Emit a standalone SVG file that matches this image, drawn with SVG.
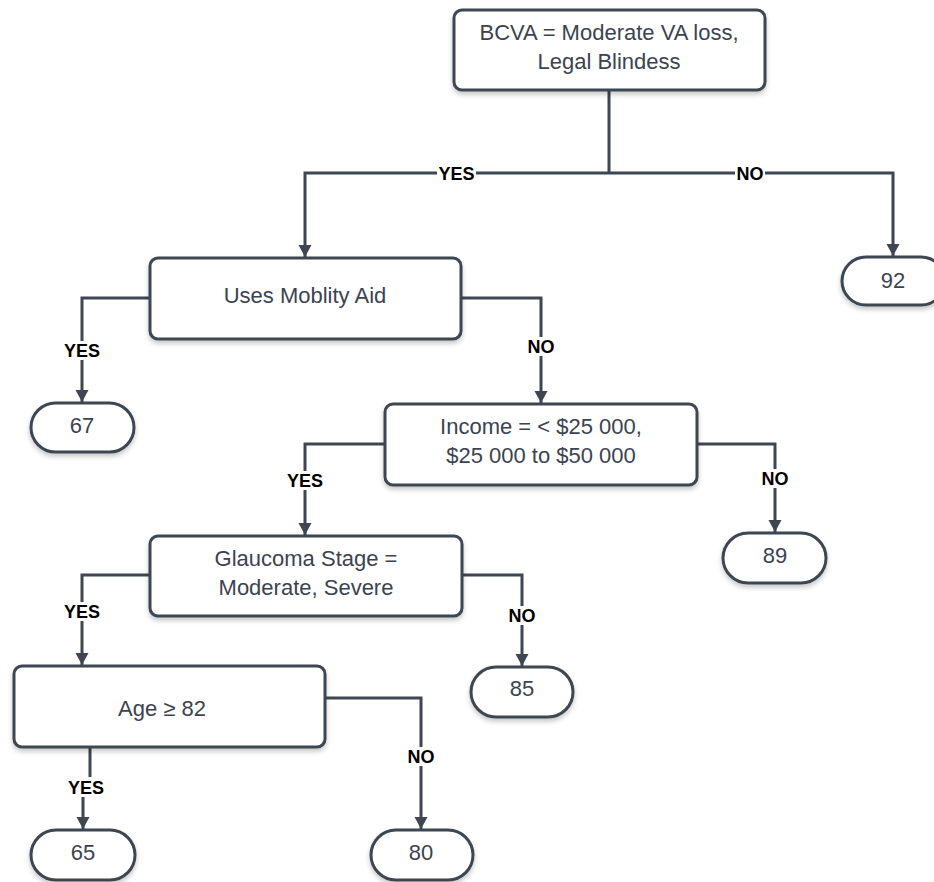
<svg xmlns="http://www.w3.org/2000/svg" width="934" height="882" viewBox="0 0 934 882">
  <defs>
    <filter id="shadow" x="-10%" y="-10%" width="120%" height="140%">
      <feDropShadow dx="0" dy="3" stdDeviation="2.5" flood-color="#000" flood-opacity="0.22"/>
    </filter>
    <marker id="arrow" markerUnits="userSpaceOnUse" markerWidth="14" markerHeight="14" refX="12" refY="6.5" orient="auto">
      <path d="M0,0 L12,6.5 L0,13 Z" fill="#3d4651"/>
    </marker>
    <style>
      .box { fill: #ffffff; stroke: #3d4651; stroke-width: 3; filter: url(#shadow); }
      .txt { font-family: "Liberation Sans", Arial, sans-serif; font-size: 22px; fill: #3b4350; text-anchor: middle; }
      .edge { fill: none; stroke: #3d4651; stroke-width: 3; }
      .lbl { font-family: "Liberation Sans", Arial, sans-serif; font-size: 18px; font-weight: bold; fill: #000000; text-anchor: middle; }
      .lblbg { fill: #ffffff; }
    </style>
  </defs>
  <rect width="934" height="882" fill="#ffffff"/>

  <!-- connectors -->
  <g id="connectors">
    <path class="edge" d="M609 90 V173"/>
    <path class="edge" d="M609 173 H305 V257" marker-end="url(#arrow)"/>
    <path class="edge" d="M609 173 H893 V256" marker-end="url(#arrow)"/>
    <path class="edge" d="M150 298 H82 V402" marker-end="url(#arrow)"/>
    <path class="edge" d="M461 298 H541 V403" marker-end="url(#arrow)"/>
    <path class="edge" d="M697 444 H775 V532" marker-end="url(#arrow)"/>
    <path class="edge" d="M385 444 H305 V535" marker-end="url(#arrow)"/>
    <path class="edge" d="M150 575 H82 V665" marker-end="url(#arrow)"/>
    <path class="edge" d="M462 575 H522 V666" marker-end="url(#arrow)"/>
    <path class="edge" d="M325 698 H421 V829" marker-end="url(#arrow)"/>
    <path class="edge" d="M90 747 V787 H83 V829" marker-end="url(#arrow)"/>

    <!-- branch labels -->
    <rect class="lblbg" x="437" y="164" width="39" height="18"/>
    <text class="lbl" x="456.5" y="179.5">YES</text>
    <rect class="lblbg" x="735" y="164" width="30" height="18"/>
    <text class="lbl" x="750" y="179.5">NO</text>
    <rect class="lblbg" x="62" y="341" width="41" height="19"/>
    <text class="lbl" x="82" y="357">YES</text>
    <rect class="lblbg" x="525" y="337" width="32" height="19"/>
    <text class="lbl" x="541" y="353">NO</text>
    <rect class="lblbg" x="285" y="471" width="41" height="19"/>
    <text class="lbl" x="305" y="487">YES</text>
    <rect class="lblbg" x="759" y="469" width="32" height="19"/>
    <text class="lbl" x="775" y="485">NO</text>
    <rect class="lblbg" x="62" y="602" width="41" height="19"/>
    <text class="lbl" x="82" y="618">YES</text>
    <rect class="lblbg" x="506" y="606" width="32" height="19"/>
    <text class="lbl" x="522" y="622">NO</text>
    <rect class="lblbg" x="405" y="747" width="32" height="19"/>
    <text class="lbl" x="421" y="763">NO</text>
    <rect class="lblbg" x="65" y="777" width="42" height="20"/>
    <text class="lbl" x="86" y="793.5">YES</text>
  </g>

  <!-- decision nodes -->
  <g id="bcva">
    <rect class="box" x="454" y="10" width="311" height="80" rx="8"/>
    <text class="txt" x="609" y="40">BCVA = Moderate VA loss,</text>
    <text class="txt" x="609" y="69">Legal Blindess</text>
  </g>
  <g id="mobility">
    <rect class="box" x="150" y="258" width="311" height="81" rx="8"/>
    <text class="txt" x="305" y="303">Uses Moblity Aid</text>
  </g>
  <g id="income">
    <rect class="box" x="385" y="404" width="312" height="81" rx="8"/>
    <text class="txt" x="541" y="434">Income = &lt; $25 000,</text>
    <text class="txt" x="541" y="463">$25 000 to $50 000</text>
  </g>
  <g id="glaucoma">
    <rect class="box" x="150" y="536" width="312" height="80" rx="8"/>
    <text class="txt" x="306" y="566">Glaucoma Stage =</text>
    <text class="txt" x="306" y="595">Moderate, Severe</text>
  </g>
  <g id="age">
    <rect class="box" x="14" y="666" width="311" height="81" rx="8"/>
    <text class="txt" x="162" y="716">Age ≥ 82</text>
  </g>

  <!-- terminal nodes -->
  <g id="leaf92">
    <rect class="box" x="842" y="257" width="103" height="48" rx="24"/>
    <text class="txt" x="893" y="288">92</text>
  </g>
  <g id="leaf67">
    <rect class="box" x="31" y="403" width="103" height="49" rx="24.5"/>
    <text class="txt" x="82" y="433">67</text>
  </g>
  <g id="leaf89">
    <rect class="box" x="723" y="533" width="103" height="50" rx="25"/>
    <text class="txt" x="775" y="563">89</text>
  </g>
  <g id="leaf85">
    <rect class="box" x="471" y="667" width="102" height="50" rx="25"/>
    <text class="txt" x="522" y="696">85</text>
  </g>
  <g id="leaf65">
    <rect class="box" x="31" y="830" width="104" height="50" rx="25"/>
    <text class="txt" x="83" y="860">65</text>
  </g>
  <g id="leaf80">
    <rect class="box" x="371" y="830" width="102" height="50" rx="25"/>
    <text class="txt" x="421" y="860">80</text>
  </g>
</svg>
